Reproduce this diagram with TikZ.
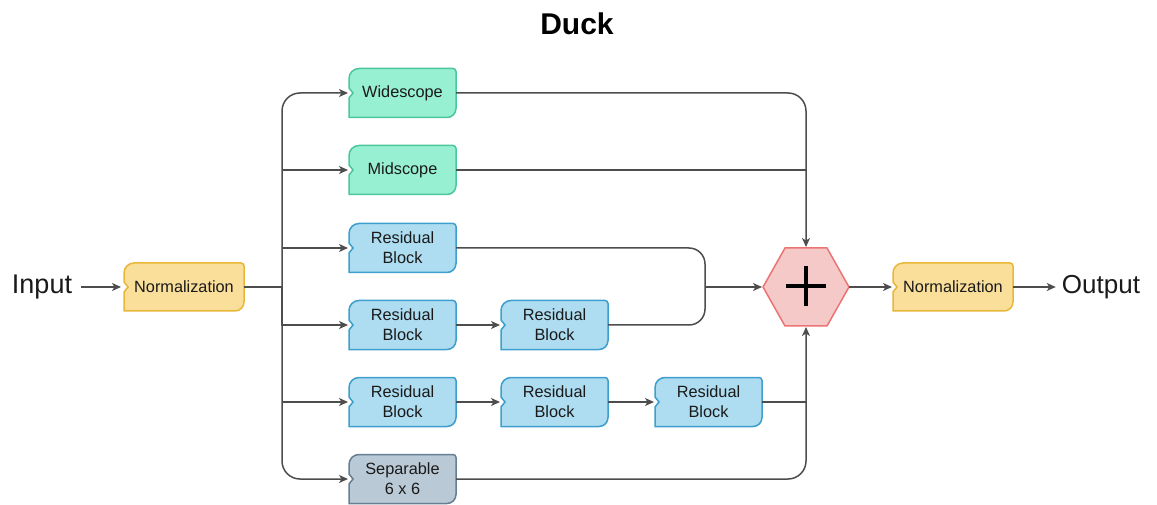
\documentclass[tikz,border=0pt]{standalone}
\usepackage{fontspec}
\setmainfont{Liberation Sans}
\usetikzlibrary{arrows.meta,calc,backgrounds}
\definecolor{txt}{HTML}{1A1A1A}
\definecolor{ln}{HTML}{4D4D4D}
\definecolor{grF}{HTML}{97F0D2}
\definecolor{grD}{HTML}{4CC79A}
\definecolor{blF}{HTML}{AEDCF0}
\definecolor{blD}{HTML}{3D9FCD}
\definecolor{yeF}{HTML}{FADF9B}
\definecolor{yeD}{HTML}{E8B73A}
\definecolor{gyF}{HTML}{B9C9D5}
\definecolor{gyD}{HTML}{667F92}
\definecolor{rdF}{HTML}{F6C9C9}
\definecolor{rdD}{HTML}{EC7373}
\tikzset{
  box/.style={minimum width=107pt, minimum height=49pt, inner sep=0pt, outer sep=0pt, align=center,
    font=\fontsize{16.3}{20}\selectfont, text=txt},
  nbox/.style={box, minimum width=120pt, minimum height=48pt},
  conn/.style={line width=1.5pt, draw=ln},
  arr/.style={conn, -{Stealth[length=9pt,width=8pt,inset=2.5pt]}, shorten >=1pt},
  green/.style={fill=grF, draw=grD, line width=1.5pt},
  blue/.style={fill=blF, draw=blD, line width=1.5pt},
  yellow/.style={fill=yeF, draw=yeD, line width=1.5pt},
  grey/.style={fill=gyF, draw=gyD, line width=1.5pt},
  bigtext/.style={font=\fontsize{26}{30}\selectfont, text=txt, inner sep=3pt},
}
\newcommand\blkshape[2]{%
  \path[#2] let \p1=(#1.north west), \p2=(#1.south east), \p3=(#1.west) in
    (\x1,\y2) -- (\x1,{\y3-5pt}) -- ({\x1+4pt},\y3) -- (\x1,{\y3+5pt}) -- (\x1,{\y1-10pt})
    arc[start angle=180,end angle=90,radius=10pt] -- ({\x2-3pt},\y1)
    arc[start angle=90,end angle=0,radius=3pt] -- (\x2,{\y2+9pt})
    arc[start angle=0,end angle=-90,radius=9pt] -- cycle;
}
\begin{document}
\begin{tikzpicture}[x=1pt,y=1pt]
\useasboundingbox (0,0) rectangle (1157,504);
% title
\node[font=\bfseries\fontsize{30}{34}\selectfont, text=black] (title) at (577,480) {Duck};
% nodes
\node[bigtext, font=\fontsize{27}{30}\selectfont] (in) at (42,217) {Input};
\node[bigtext] (out) at (1101,217) {Output};
\node[nbox] (n1) at (184,217) {Normalization};
\node[nbox] (n2) at (953,217) {Normalization};
\node[box] (w) at (402.5,411) {Widescope};
\node[box] (m) at (402.5,334) {Midscope};
\node[box] (r1) at (402.5,256) {Residual\\Block};
\node[box] (r2a) at (402.5,179) {Residual\\Block};
\node[box] (r2b) at (554.5,179) {Residual\\Block};
\node[box] (r3a) at (402.5,102) {Residual\\Block};
\node[box] (r3b) at (554.5,102) {Residual\\Block};
\node[box] (r3c) at (708.5,102) {Residual\\Block};
\node[box] (sep) at (402.5,25) {Separable\\6 x 6};
\node[minimum width=86pt, minimum height=78pt, inner sep=0pt, outer sep=0pt] (hex) at (806,217) {};
\coordinate (t) at (282,217);
\coordinate (j) at (705,217);
% shapes
\begin{scope}[on background layer]
  \blkshape{n1}{yellow}
  \blkshape{n2}{yellow}
  \blkshape{w}{green}
  \blkshape{m}{green}
  \blkshape{r1}{blue}
  \blkshape{r2a}{blue}
  \blkshape{r2b}{blue}
  \blkshape{r3a}{blue}
  \blkshape{r3b}{blue}
  \blkshape{r3c}{blue}
  \blkshape{sep}{grey}
  \path[fill=rdF, draw=rdD, line width=1.5pt] (hex.west) -- ($(hex.north west)+(22,0)$) -- ($(hex.north east)+(-22,0)$)
    -- (hex.east) -- ($(hex.south east)+(-22,0)$) -- ($(hex.south west)+(22,0)$) -- cycle;
\end{scope}
\draw[line width=4.5pt, black] ($(hex.center)+(-20,1)$) -- ($(hex.center)+(20,1)$);
\draw[line width=4.5pt, black] ($(hex.center)+(0,-19)$) -- ($(hex.center)+(0,21)$);
% connectors
\draw[arr, shorten <=6pt, shorten >=3pt] (in.east) -- (n1.west);
\draw[conn] (n1.east) -- (t);
\draw[arr, rounded corners=18pt] (t) |- (w.west);
\draw[arr, rounded corners=18pt] (t) |- (sep.west);
\draw[arr] (t |- m.west) -- (m.west);
\draw[arr] (t |- r1.west) -- (r1.west);
\draw[arr] (t) |- (r2a.west);
\draw[arr] (t |- r3a.west) -- (r3a.west);
\draw[arr] (r2a.east) -- (r2b.west);
\draw[arr] (r3a.east) -- (r3b.west);
\draw[arr] (r3b.east) -- (r3c.west);
\draw[arr, rounded corners=18pt] (w.east) -| (hex.north);
\draw[conn] (m.east) -- (m.east -| hex.north);
\draw[conn, rounded corners=16pt] (r1.east) -| (j);
\draw[conn, rounded corners=16pt] (r2b.east) -| (j);
\draw[arr] (j) -- (hex.west);
\draw[arr, rounded corners=18pt] (sep.east) -| (hex.south);
\draw[conn] (r3c.east) -- (r3c.east -| hex.south);
\draw[arr] (hex.east) -- (n2.west);
\draw[arr, shorten >=3pt] (n2.east) -- (out.west);
\end{tikzpicture}
\end{document}
